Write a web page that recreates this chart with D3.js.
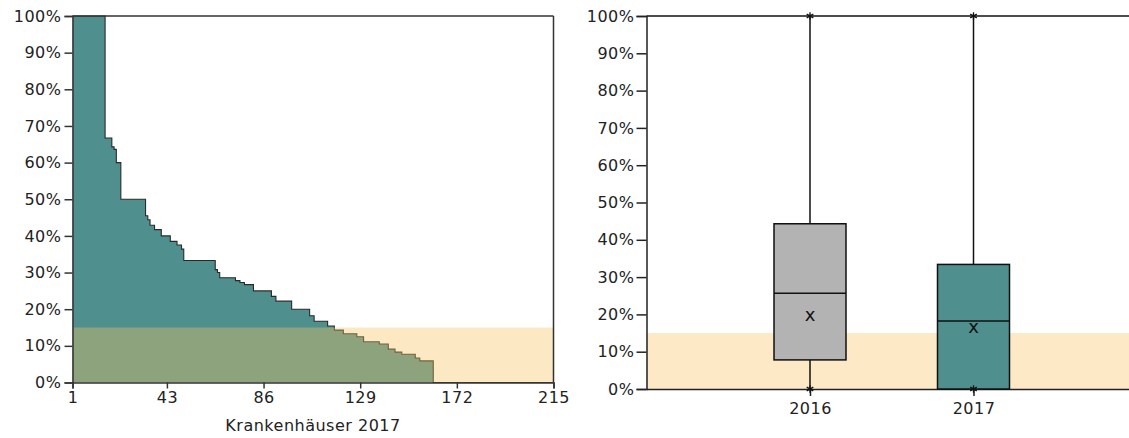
<!DOCTYPE html>
<html><head><meta charset="utf-8">
<script src="https://cdn.jsdelivr.net/npm/d3@7"></script>
<style>
html,body{margin:0;padding:0;background:#fff;}
svg{display:block;font-family:"DejaVu Sans",Verdana,sans-serif;}
</style></head>
<body>
<svg id="c" width="1129" height="438"></svg>
<script>
// ---- Data: left chart, hospitals sorted by share (runs of equal values) ----
const runValues = [100,66.7,64.3,63.6,60,50,45.5,44.4,42.9,41.7,40,38.5,37.5,36.4,33.3,30.8,30,28.6,27.8,27.3,26.7,25,23.5,22.2,20,18.2,16.7,15.4,14.3,13.3,12.5,11.1,10.5,9.1,8.3,7.7,6.7,5.9,0];
const runCounts = [15,3,1,1,2,11,1,1,2,3,4,3,2,1,14,1,1,7,2,2,4,8,2,7,8,2,6,3,4,6,3,7,4,3,3,6,2,6,54];
const xTickValues = [1,43,86,129,172,215];
const xLabel = "Krankenhäuser 2017";
const threshold = 15;
// ---- Data: right chart, box plots ----
const years = ["2016","2017"];
const boxMin = [0,0];
const boxQ1 = [7.8,0];
const boxMedian = [25.7,18.2];
const boxQ3 = [44.3,33.4];
const boxMax = [100,100];
const boxMean = [19.7,16.3];
const boxFill = ["#B3B3B3","#4F908F"];

const svg = d3.select("#c");
const textColor = "#222";
const axisColor = "#333";
const teal = "#4F908F";
const fontFam = "'DejaVu Sans',Verdana,sans-serif";

// expand runs into one value per hospital
const hosp = [];
runValues.forEach((v,i)=>{ for(let k=0;k<runCounts[i];k++) hosp.push({i:hosp.length+1, v}); });

// ================= LEFT CHART =================
const xL = d3.scaleLinear().domain([1,215]).range([72.5,553.5]);
const yL = d3.scaleLinear().domain([0,100]).range([382.5,16]);
const gL = svg.append("g");

const area = d3.area().curve(d3.curveStep).x(d=>xL(d.i)).y0(yL(0)).y1(d=>yL(d.v));
const line = d3.line().curve(d3.curveStep).x(d=>xL(d.i)).y(d=>yL(d.v));
gL.append("path").datum(hosp).attr("d",area).attr("fill",teal);
gL.append("path").datum(hosp).attr("d",line).attr("fill","none").attr("stroke","#2a2a2a").attr("stroke-width",1.1);
// threshold band (translucent overlay)
gL.append("rect").attr("x",xL(1)).attr("width",xL(215)-xL(1))
  .attr("y",yL(threshold)).attr("height",yL(0)-yL(threshold))
  .attr("fill","#F6C35E").attr("fill-opacity",0.37);

// frame
gL.append("line").attr("x1",xL(1)).attr("x2",xL(215)).attr("y1",yL(100)).attr("y2",yL(100)).attr("stroke",axisColor).attr("stroke-width",1.5);
gL.append("line").attr("x1",xL(215)).attr("x2",xL(215)).attr("y1",yL(100)).attr("y2",yL(0)).attr("stroke",axisColor).attr("stroke-width",1.5);

const yAxisL = gL.append("g").attr("transform",`translate(${xL(1)},0)`)
  .call(d3.axisLeft(yL).tickValues(d3.range(0,101,10)).tickFormat(d=>d+"%").tickSize(8).tickPadding(3));
const xAxisL = gL.append("g").attr("transform",`translate(0,${yL(0)})`)
  .call(d3.axisBottom(xL).tickValues(xTickValues).tickFormat(d3.format("d")).tickSize(6).tickPadding(3));
[yAxisL,xAxisL].forEach(a=>{
  a.selectAll("path,line").attr("stroke",axisColor).attr("stroke-width",1.5);
  a.selectAll("text").attr("fill",textColor).style("font-size","16px").style("font-family",fontFam).style("letter-spacing","0.5px");
});
gL.append("text").attr("x",(xL(1)+xL(215))/2).attr("y",430.5).attr("text-anchor","middle")
  .attr("fill",textColor).style("font-size","16px").style("letter-spacing","0.5px").text(xLabel);

// ================= RIGHT CHART =================
const yR = d3.scaleLinear().domain([0,100]).range([389,16]);
const xR = d3.scalePoint().domain(years).range([646.5,1137]).padding(1);
const gR = svg.append("g");
const bw = 72;

gR.append("rect").attr("x",xR.range()[0]).attr("width",xR.range()[1]-xR.range()[0])
  .attr("y",yR(threshold)).attr("height",yR(0)-yR(threshold)).attr("fill","#FDE9C6");

gR.append("line").attr("x1",xR.range()[0]).attr("x2",xR.range()[1]).attr("y1",yR(100)).attr("y2",yR(100)).attr("stroke","#111").attr("stroke-width",1.5);

const yAxisR = gR.append("g").attr("transform",`translate(${xR.range()[0]},0)`)
  .call(d3.axisLeft(yR).tickValues(d3.range(0,101,10)).tickFormat(d=>d+"%").tickSize(10).tickPadding(2));
const xAxisR = gR.append("g").attr("transform",`translate(0,${yR(0)})`)
  .call(d3.axisBottom(xR).tickSize(7).tickPadding(7).tickSizeOuter(0));
[yAxisR,xAxisR].forEach(a=>{
  a.selectAll("path,line").attr("stroke","#222").attr("stroke-width",1.5);
  a.selectAll("text").attr("fill",textColor).style("font-size","16px").style("font-family",fontFam).style("letter-spacing","0.5px");
});

const boxes = years.map((y,i)=>({y,min:boxMin[i],q1:boxQ1[i],med:boxMedian[i],q3:boxQ3[i],max:boxMax[i],mean:boxMean[i],fill:boxFill[i]}));
const bg = gR.selectAll("g.box").data(boxes).join("g").attr("class","box");
bg.append("line").attr("x1",d=>xR(d.y)).attr("x2",d=>xR(d.y)).attr("y1",d=>yR(d.min)).attr("y2",d=>yR(d.max))
  .attr("stroke","#111").attr("stroke-width",1.5);
bg.append("rect").attr("x",d=>xR(d.y)-bw/2).attr("width",bw).attr("y",d=>yR(d.q3)).attr("height",d=>yR(d.q1)-yR(d.q3))
  .attr("fill",d=>d.fill).attr("stroke","#111").attr("stroke-width",1.5);
bg.append("line").attr("x1",d=>xR(d.y)-bw/2).attr("x2",d=>xR(d.y)+bw/2).attr("y1",d=>yR(d.med)).attr("y2",d=>yR(d.med))
  .attr("stroke","#111").attr("stroke-width",1.5);
bg.append("text").attr("x",d=>xR(d.y)).attr("y",d=>yR(d.mean)+5).attr("text-anchor","middle")
  .attr("fill","#111").style("font-size","18px").text("x");
const star = d3.symbol().type(d3.symbolAsterisk).size(40);
bg.append("path").attr("d",star).attr("transform",d=>`translate(${xR(d.y)},${yR(d.max)})`).attr("fill","none").attr("stroke","#111").attr("stroke-width",1.3);
bg.append("path").attr("d",star).attr("transform",d=>`translate(${xR(d.y)},${yR(d.min)})`).attr("fill","none").attr("stroke","#111").attr("stroke-width",1.3);
</script>
</body></html>
